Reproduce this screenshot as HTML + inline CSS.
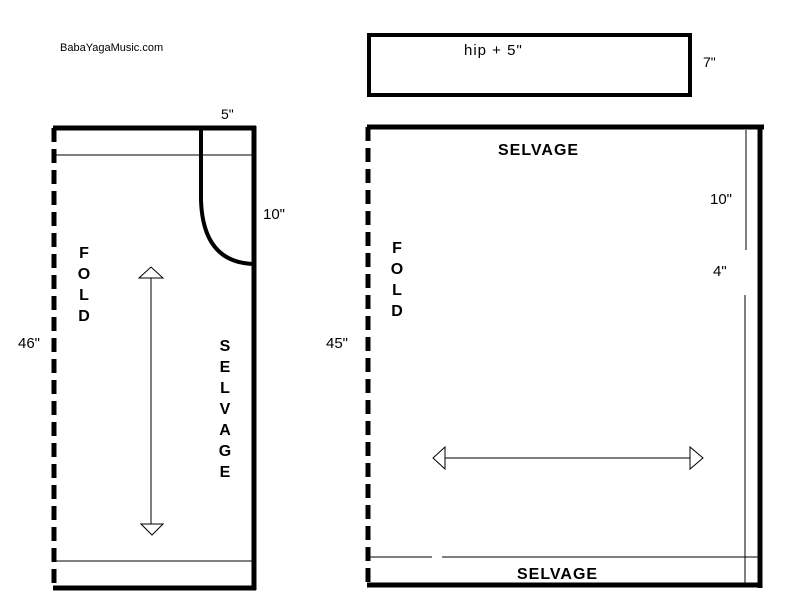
<!DOCTYPE html>
<html><head><style>
html,body{margin:0;padding:0;background:#fff;}
svg{display:block;}
text{font-family:"Liberation Sans","DejaVu Sans",sans-serif;fill:#000;}
</style></head><body>
<svg width="797" height="606" viewBox="0 0 797 606" xmlns="http://www.w3.org/2000/svg">
<text x="60" y="51" font-size="11">BabaYagaMusic.com</text>

<!-- top small rect -->
<rect x="369" y="35" width="321" height="60" fill="none" stroke="#000" stroke-width="4"/>
<text x="464" y="55" font-size="15" font-family="DejaVu Sans Mono" letter-spacing="1">hip + 5"</text>
<text x="703" y="67" font-size="14">7"</text>

<!-- left piece -->
<line x1="53" y1="128" x2="256" y2="128" stroke="#000" stroke-width="5"/>
<line x1="254" y1="126" x2="254" y2="590" stroke="#000" stroke-width="5"/>
<line x1="53" y1="588" x2="256" y2="588" stroke="#000" stroke-width="5"/>
<line x1="54" y1="128" x2="54" y2="590" stroke="#000" stroke-width="5" stroke-dasharray="14 7"/>
<line x1="56" y1="155" x2="252" y2="155" stroke="#000" stroke-width="1"/>
<line x1="56" y1="561" x2="252" y2="561" stroke="#000" stroke-width="1"/>
<path d="M201,128 L201,200 Q203,264 256,264" fill="none" stroke="#000" stroke-width="4"/>
<text x="221" y="119" font-size="14">5"</text>
<text x="263" y="219" font-size="15">10"</text>
<text x="18" y="348" font-size="15">46"</text>
<g font-size="16" font-weight="bold" text-anchor="middle">
<text x="84" y="258">F</text><text x="84" y="279">O</text><text x="84" y="300">L</text><text x="84" y="321">D</text>
<text x="225" y="351">S</text><text x="225" y="372">E</text><text x="225" y="393">L</text><text x="225" y="414">V</text><text x="225" y="435">A</text><text x="225" y="456">G</text><text x="225" y="477">E</text>
</g>
<line x1="151" y1="278" x2="151" y2="524" stroke="#000" stroke-width="1"/>
<polygon points="139,278 163,278 151,267" fill="#fff" stroke="#000" stroke-width="1"/>
<polygon points="141,524 163,524 152,535" fill="#fff" stroke="#000" stroke-width="1"/>

<!-- right piece -->
<line x1="367" y1="127" x2="764" y2="127" stroke="#000" stroke-width="5"/>
<line x1="760" y1="125" x2="760" y2="588" stroke="#000" stroke-width="5"/>
<line x1="367" y1="585" x2="762" y2="585" stroke="#000" stroke-width="5"/>
<line x1="368" y1="127" x2="368" y2="587" stroke="#000" stroke-width="5" stroke-dasharray="14 7"/>
<line x1="746" y1="130" x2="746" y2="250" stroke="#000" stroke-width="1"/>
<line x1="745" y1="295" x2="745" y2="583" stroke="#000" stroke-width="1"/>
<line x1="369" y1="557" x2="432" y2="557" stroke="#000" stroke-width="1"/>
<line x1="442" y1="557" x2="758" y2="557" stroke="#000" stroke-width="1"/>
<text x="498" y="155" font-size="16" font-weight="bold" letter-spacing="1">SELVAGE</text>
<text x="517" y="579" font-size="16" font-weight="bold" letter-spacing="1">SELVAGE</text>
<text x="710" y="204" font-size="15">10"</text>
<text x="713" y="276" font-size="15">4"</text>
<text x="326" y="348" font-size="15">45"</text>
<g font-size="16" font-weight="bold" text-anchor="middle">
<text x="397" y="253">F</text><text x="397" y="274">O</text><text x="397" y="295">L</text><text x="397" y="316">D</text>
</g>
<line x1="445" y1="458" x2="690" y2="458" stroke="#000" stroke-width="1"/>
<polygon points="445,447 445,469 433,458" fill="#fff" stroke="#000" stroke-width="1"/>
<polygon points="690,447 690,469 703,458" fill="#fff" stroke="#000" stroke-width="1"/>
</svg>
</body></html>
